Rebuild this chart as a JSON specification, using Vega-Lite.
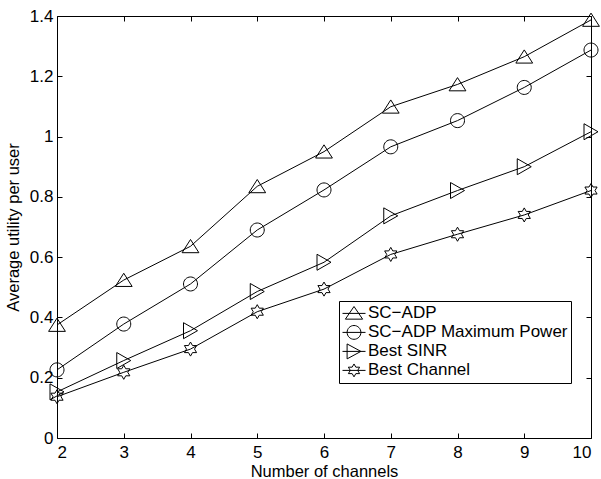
{
  "$schema": "https://vega.github.io/schema/vega-lite/v6.json",
  "width": 534,
  "height": 422,
  "autosize": {"type": "none"},
  "padding": {"left": 57, "top": 16, "right": 10, "bottom": 41},
  "background": "white",
  "config": {
    "view": {"stroke": "black", "strokeWidth": 1},
    "font": "Liberation Sans",
    "axis": {"grid": false, "domain": false, "tickColor": "black", "labelColor": "black", "titleColor": "black", "titleFontWeight": "normal", "labelFontSize": 17, "titleFontSize": 16.5, "tickSize": -5}
  },
  "data": {
    "values": [
      {"channels": 2, "utility": 0.375, "scheme": "SC\u2212ADP"},
      {"channels": 3, "utility": 0.524, "scheme": "SC\u2212ADP"},
      {"channels": 4, "utility": 0.636, "scheme": "SC\u2212ADP"},
      {"channels": 5, "utility": 0.835, "scheme": "SC\u2212ADP"},
      {"channels": 6, "utility": 0.95, "scheme": "SC\u2212ADP"},
      {"channels": 7, "utility": 1.099, "scheme": "SC\u2212ADP"},
      {"channels": 8, "utility": 1.173, "scheme": "SC\u2212ADP"},
      {"channels": 9, "utility": 1.265, "scheme": "SC\u2212ADP"},
      {"channels": 10, "utility": 1.387, "scheme": "SC\u2212ADP"},
      {"channels": 2, "utility": 0.226, "scheme": "SC\u2212ADP Maximum Power"},
      {"channels": 3, "utility": 0.378, "scheme": "SC\u2212ADP Maximum Power"},
      {"channels": 4, "utility": 0.511, "scheme": "SC\u2212ADP Maximum Power"},
      {"channels": 5, "utility": 0.69, "scheme": "SC\u2212ADP Maximum Power"},
      {"channels": 6, "utility": 0.823, "scheme": "SC\u2212ADP Maximum Power"},
      {"channels": 7, "utility": 0.966, "scheme": "SC\u2212ADP Maximum Power"},
      {"channels": 8, "utility": 1.053, "scheme": "SC\u2212ADP Maximum Power"},
      {"channels": 9, "utility": 1.163, "scheme": "SC\u2212ADP Maximum Power"},
      {"channels": 10, "utility": 1.287, "scheme": "SC\u2212ADP Maximum Power"},
      {"channels": 2, "utility": 0.153, "scheme": "Best SINR"},
      {"channels": 3, "utility": 0.257, "scheme": "Best SINR"},
      {"channels": 4, "utility": 0.356, "scheme": "Best SINR"},
      {"channels": 5, "utility": 0.486, "scheme": "Best SINR"},
      {"channels": 6, "utility": 0.583, "scheme": "Best SINR"},
      {"channels": 7, "utility": 0.737, "scheme": "Best SINR"},
      {"channels": 8, "utility": 0.821, "scheme": "Best SINR"},
      {"channels": 9, "utility": 0.9, "scheme": "Best SINR"},
      {"channels": 10, "utility": 1.016, "scheme": "Best SINR"},
      {"channels": 2, "utility": 0.137, "scheme": "Best Channel"},
      {"channels": 3, "utility": 0.218, "scheme": "Best Channel"},
      {"channels": 4, "utility": 0.295, "scheme": "Best Channel"},
      {"channels": 5, "utility": 0.419, "scheme": "Best Channel"},
      {"channels": 6, "utility": 0.494, "scheme": "Best Channel"},
      {"channels": 7, "utility": 0.609, "scheme": "Best Channel"},
      {"channels": 8, "utility": 0.676, "scheme": "Best Channel"},
      {"channels": 9, "utility": 0.74, "scheme": "Best Channel"},
      {"channels": 10, "utility": 0.821, "scheme": "Best Channel"}
    ]
  },
  "layer": [
    {
      "mark": {"type": "line", "color": "black", "strokeWidth": 1},
      "encoding": {
        "x": {"field": "channels", "type": "quantitative", "scale": {"domain": [2, 10], "nice": false, "zero": false},
              "axis": {"orient": "bottom", "values": [2, 3, 4, 5, 6, 7, 8, 9, 10], "title": "Number of channels", "labelPadding": 11, "titlePadding": 3}},
        "y": {"field": "utility", "type": "quantitative", "scale": {"domain": [0, 1.4], "nice": false},
              "axis": {"orient": "left", "values": [0, 0.2, 0.4, 0.6, 0.8, 1, 1.2, 1.4], "format": ".1~f", "title": "Average utility per user", "labelPadding": 9, "titlePadding": 8}},
        "detail": {"field": "scheme"}
      }
    },
    {
      "mark": {"type": "point", "filled": false, "color": "black", "strokeWidth": 1, "size": 256, "opacity": 1},
      "encoding": {
        "x": {"field": "channels", "type": "quantitative", "axis": null},
        "y": {"field": "utility", "type": "quantitative", "axis": null},
        "shape": {"field": "scheme", "type": "nominal", "legend": null,
          "scale": {"domain": ["SC\u2212ADP", "SC\u2212ADP Maximum Power", "Best SINR", "Best Channel"],
                    "range": ["M0,-0.85L1.05,0.8L-1.05,0.8Z",
                              "M0.875,0A0.875,0.875 0 1,1 -0.875,0A0.875,0.875 0 1,1 0.875,0Z",
                              "M0.875,0L-0.875,-1L-0.875,1Z",
                              "M0,-0.88L0.25,-0.44L0.762,-0.44L0.5,0L0.762,0.44L0.25,0.44L0,0.88L-0.25,0.44L-0.762,0.44L-0.5,0L-0.762,-0.44L-0.25,-0.44Z"]}}
      }
    },
    {
      "mark": {"type": "point", "filled": false, "color": "black", "strokeWidth": 1, "opacity": 0},
      "encoding": {
        "x": {"field": "channels", "type": "quantitative",
              "axis": {"orient": "top", "values": [2, 3, 4, 5, 6, 7, 8, 9, 10], "labels": false, "title": null}},
        "y": {"field": "utility", "type": "quantitative",
              "axis": {"orient": "right", "values": [0, 0.2, 0.4, 0.6, 0.8, 1, 1.2, 1.4], "labels": false, "title": null}},
        "shape": {"field": "scheme", "type": "nominal",
          "scale": {"domain": ["SC\u2212ADP", "SC\u2212ADP Maximum Power", "Best SINR", "Best Channel"],
                    "range": ["M-1,0H1M0,-0.6L0.75,0.5L-0.75,0.5Z",
                              "M-1,0H1M0.6,0A0.6,0.6 0 1,1 -0.6,0A0.6,0.6 0 1,1 0.6,0Z",
                              "M-1,0H1M0.6,0L-0.6,-0.65L-0.6,0.65Z",
                              "M-1,0H1M0,-0.56L0.16,-0.28L0.49,-0.28L0.32,0L0.49,0.28L0.16,0.28L0,0.56L-0.16,0.28L-0.49,0.28L-0.32,0L-0.49,-0.28L-0.16,-0.28Z"]},
          "legend": {"title": null, "orient": "none", "legendX": 282, "legendY": 285, "direction": "vertical",
                     "strokeColor": "black", "fillColor": "white", "padding": 3, "symbolSize": 529,
                     "symbolStrokeColor": "black", "symbolFillColor": "transparent", "symbolStrokeWidth": 1, "symbolOpacity": 1,
                     "labelFontSize": 17, "labelColor": "black", "labelOffset": 2, "clipHeight": 18.8, "rowPadding": 0, "labelLimit": 400}}
      }
    }
  ],
  "resolve": {"axis": {"x": "independent", "y": "independent"}, "scale": {"shape": "independent"}}
}
